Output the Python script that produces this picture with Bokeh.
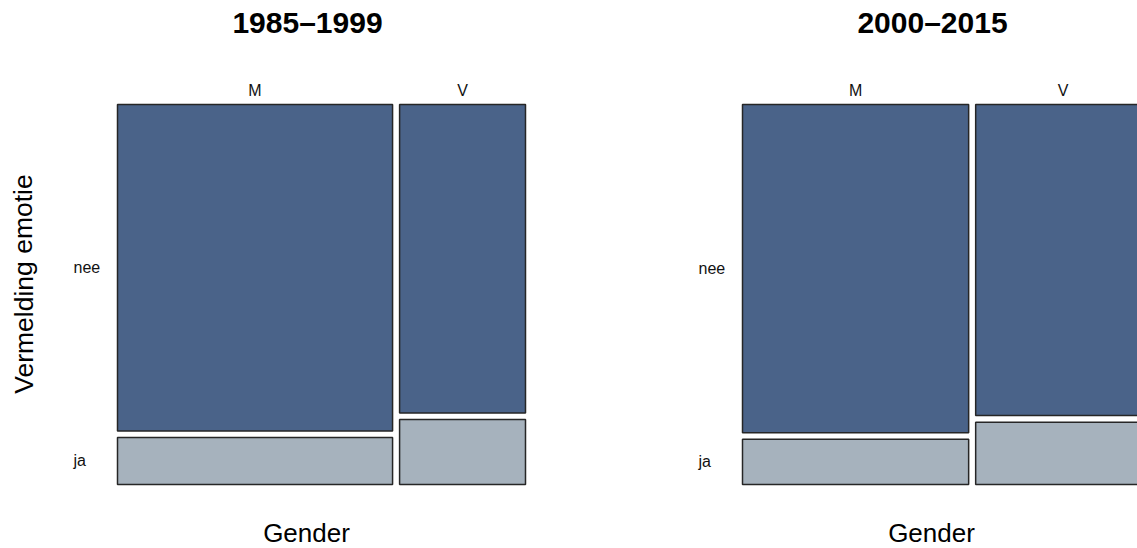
from bokeh.plotting import figure
from bokeh.layouts import row
from bokeh.models import ColumnDataSource, Range1d
from bokeh.core.properties import value
from bokeh.embed import file_html
from bokeh.resources import INLINE

# Mosaic data: share of each gender within a period, and the share of
# articles that mention an emotion ("ja") within each gender.
periods = ["1985–1999", "2000–2015"]
genders = ["M", "V"]
responses = ["ja", "nee"]
gender_share_8599 = [0.686, 0.314]
ja_share_8599 = [0.126, 0.174]
gender_share_0015 = [0.564, 0.436]
ja_share_0015 = [0.121, 0.167]

x_title = "Gender"
y_title = "Vermelding emotie"

FILL = {"nee": "#4a6389", "ja": "#a6b2bd"}
EDGE = "#262626"
FONT = value("Liberation Sans")

GAP = 0.0175                 # spacing between tiles, in data units
TILE_W, TILE_H = 408, 380    # pixel size of the tile area
UX = (1 + GAP) / TILE_W      # data units per pixel
UY = (1 + GAP) / TILE_H
PAD_L, PAD_T, PAD_B = 117, 104, 64
BASE = 484                   # pixel row of the tiles' bottom edge


def py(row_px):
    """Vertical data position of a pixel row (measured from the top)."""
    return (BASE - row_px) * UY


def mosaic_source(gender_share, ja_share):
    left, right, bottom, top, color = [], [], [], [], []
    x0 = 0.0
    for w, ja in zip(gender_share, ja_share):
        for resp in responses:
            if resp == "ja":
                b, t = 0.0, ja
            else:
                b, t = ja + GAP, 1 + GAP
            left.append(x0)
            right.append(x0 + w)
            bottom.append(b)
            top.append(t)
            color.append(FILL[resp])
        x0 += w + GAP
    return ColumnDataSource(dict(left=left, right=right, bottom=bottom,
                                 top=top, color=color))


def panel(title, gender_share, ja_share, width, with_ylabel):
    p = figure(width=width, height=548, output_backend="svg",
               toolbar_location=None, tools="",
               x_range=Range1d(-PAD_L * UX, (width - PAD_L) * UX),
               y_range=Range1d(-PAD_B * UY, 1 + GAP + PAD_T * UY),
               min_border=0, x_axis_location=None, y_axis_location=None)
    p.grid.visible = False
    p.outline_line_color = None
    p.background_fill_color = "white"
    p.border_fill_color = "white"

    src = mosaic_source(gender_share, ja_share)
    p.quad(left="left", right="right", bottom="bottom", top="top",
           source=src, fill_color="color", line_color=EDGE, line_width=1.5)

    # column labels above the tiles
    centers, x0 = [], 0.0
    for w in gender_share:
        centers.append(x0 + w / 2)
        x0 += w + GAP
    p.text(x=centers, y=[py(90)] * len(centers), text=genders,
           text_font=FONT, text_font_size="16px", text_color="#111111",
           text_align="center", text_baseline="middle")

    # row labels at the centres of the first column's tiles
    ja0 = ja_share[0]
    p.text(x=[-44 * UX] * 2,
           y=[ja0 / 2, ja0 + GAP + (1 - ja0) / 2],
           text=responses,
           text_font=FONT, text_font_size="16px", text_color="#111111",
           text_align="left", text_baseline="middle")

    # panel title and axis titles
    p.text(x=[190 * UX], y=[py(22)], text=[title],
           text_font=FONT, text_font_size="30px", text_font_style="bold",
           text_color="black", text_align="center", text_baseline="middle")
    p.text(x=[189 * UX], y=[py(532)], text=[x_title],
           text_font=FONT, text_font_size="26px", text_color="black",
           text_align="center", text_baseline="middle")
    if with_ylabel:
        p.text(x=[-(PAD_L - 23) * UX], y=[py(283.5)], text=[y_title],
               angle=1.5708, text_font=FONT, text_font_size="26.5px",
               text_color="black", text_align="center", text_baseline="middle")
    return p


p_left = panel(periods[0], gender_share_8599, ja_share_8599, 625, True)
p_right = panel(periods[1], gender_share_0015, ja_share_0015, 512, False)

layout = row(p_left, p_right)
open("out.html", "w").write(file_html(layout, INLINE))
